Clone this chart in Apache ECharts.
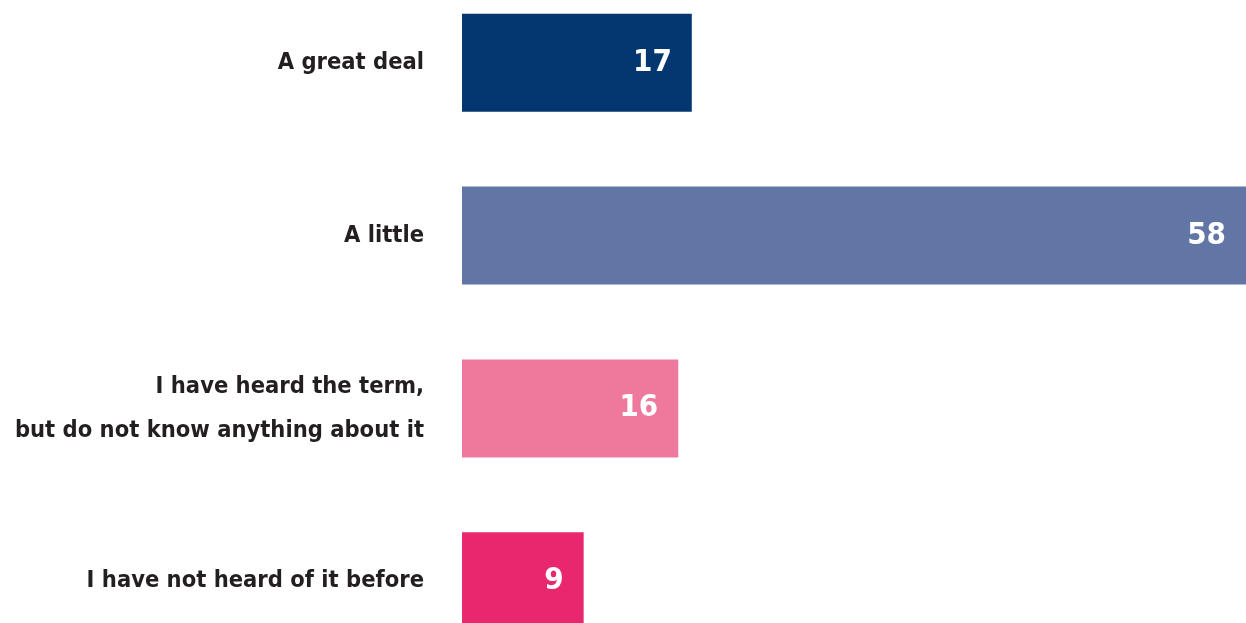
<!DOCTYPE html>
<html>
<head>
<meta charset="utf-8">
<script src="https://cdn.jsdelivr.net/npm/echarts@6/dist/echarts.min.js"></script>
<style>
  html, body { margin: 0; padding: 0; background: #ffffff; }
  #chart { width: 1246px; height: 623px; }
</style>
</head>
<body>
<div id="chart"></div>
<script>
// Awareness levels, shares in percent
const categories = [
  'A great deal',
  'A little',
  'I have heard the term,\nbut do not know anything about it',
  'I have not heard of it before'
];
const values = [17, 58, 16, 9];
const barColors = ['#04376f', '#6276a5', '#ee799c', '#e9276e'];

const FONT = '"Liberation Sans Narrow", "DejaVu Sans Condensed", sans-serif';

const chart = echarts.init(document.getElementById('chart'), null, { renderer: 'canvas' });

chart.setOption({
  backgroundColor: '#ffffff',
  animation: false,
  grid: {
    left: 462, right: 0, top: -23.6, bottom: -44.6,
    containLabel: false,
    outerBoundsMode: 'none'
  },
  xAxis: {
    type: 'value',
    min: 0,
    max: 58,
    show: false
  },
  yAxis: {
    type: 'category',
    data: categories,
    inverse: true,
    axisLine: { show: false },
    axisTick: { show: false },
    splitLine: { show: false },
    axisLabel: {
      margin: 38,
      color: '#231f20',
      fontFamily: FONT,
      fontWeight: 'bold',
      fontSize: 23.5,
      lineHeight: 44,
      align: 'right',
      padding: [6, 0, 0, 0]
    }
  },
  series: [{
    type: 'bar',
    data: values,
    barWidth: 98,
    itemStyle: {
      color: (p) => barColors[p.dataIndex]
    },
    label: {
      show: true,
      position: 'insideRight',
      distance: 20,
      color: '#ffffff',
      fontFamily: FONT,
      fontWeight: 'bold',
      fontSize: 31
    }
  }]
});
</script>
</body>
</html>
